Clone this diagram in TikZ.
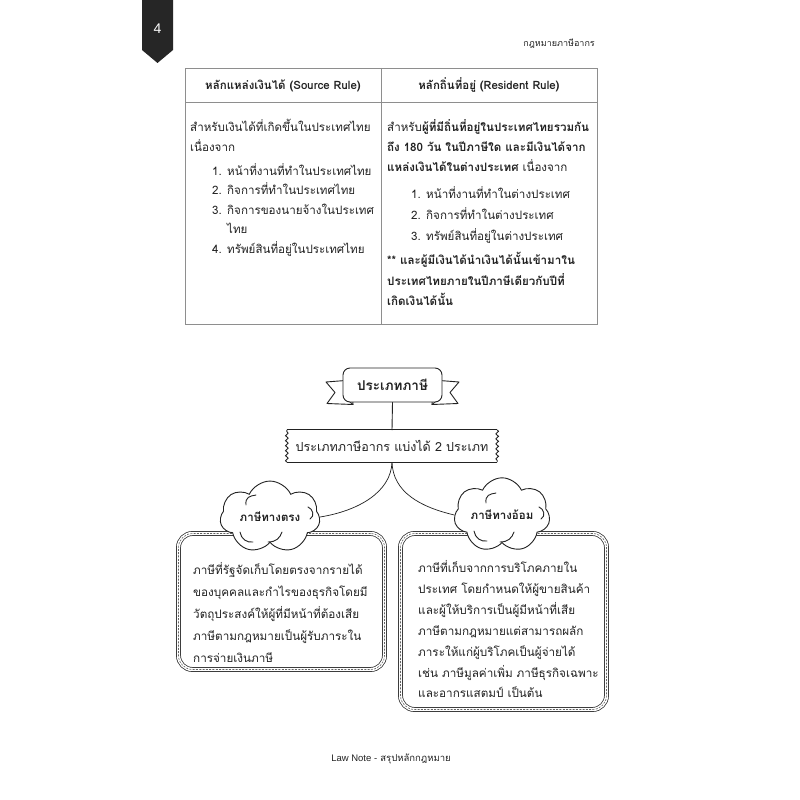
\documentclass[tikz,border=0pt]{standalone}
\usepackage{fontspec}
\setmainfont{Loma}[Script=Thai]
\newfontfamily\latinsans{Liberation Sans}
\usetikzlibrary{shapes.symbols,decorations.pathmorphing}
\definecolor{ink}{HTML}{222222}
\definecolor{tabgray}{HTML}{262626}
\definecolor{rulegray}{HTML}{8E8E8E}
\newcommand\bodyfont{\fontsize{11.6}{14}\selectfont}
\begin{document}
\begin{tikzpicture}[x=1pt,y=-1pt,
  tx/.style={anchor=base west, inner sep=0pt, text=ink, font=\bodyfont},
  txb/.style={tx, font=\bodyfont\bfseries},
  bx/.style={tx, font=\fontsize{11.7}{14}\selectfont},
  sketch/.style={draw=ink, line width=0.9pt, line join=round, line cap=round},
  outerbox/.style={draw=ink, line width=0.7pt, double=white, double distance=3.4pt, rounded corners=14pt, inner sep=0pt},
  stitch/.style={draw=ink!70, line width=0.6pt, dash pattern=on 2pt off 1.3pt, rounded corners=14pt, inner sep=0pt},
  puff/.style={cloud, cloud puffs=7, cloud puff arc=130, aspect=1.6, draw=ink, line width=0.9pt, fill=white, inner sep=0pt, text=ink, font=\fontsize{11.5}{13}\selectfont\bfseries}
]
\useasboundingbox (0,0) rectangle (800,800);
\fill[white] (0,0) rectangle (800,800);

% page tab
\fill[tabgray] (142,0) -- (173,0) -- (173,50) -- (157.5,63) -- (142,50) -- cycle;
\node[text=white, font=\latinsans\fontsize{14}{16}\selectfont, inner sep=0pt] (pg) at (157.5,29) {4};
\node[anchor=base east, inner sep=0pt, text=ink, font=\fontsize{9}{10}\selectfont] (hdr) at (595,47) {กฎหมายภาษีอากร};

% table
\draw[rulegray, line width=0.8pt] (185,68) rectangle (597,324);
\draw[rulegray, line width=0.8pt] (185,102) -- (597,102);
\draw[rulegray, line width=0.8pt] (381,68) -- (381,324);
\node[anchor=base, inner sep=0pt, text=ink, font=\fontsize{11.5}{13}\selectfont\bfseries] (h1) at (283,89.5) {หลักแหล่งเงินได้ (Source Rule)};
\node[anchor=base, inner sep=0pt, text=ink, font=\fontsize{11.5}{13}\selectfont\bfseries] (h2) at (489,89.5) {หลักถิ่นที่อยู่ (Resident Rule)};

% left cell
\node[tx] (a1) at (190,131) {สำหรับเงินได้ที่เกิดขึ้นในประเทศไทย};
\node[tx] (a2) at (190,151) {เนื่องจาก};
\node[tx] (an1) at (212,175) {1.};
\node[tx] (at1) at (227,175) {หน้าที่งานที่ทำในประเทศไทย};
\node[tx] (an2) at (212,194.5) {2.};
\node[tx] (at2) at (227,194.5) {กิจการที่ทำในประเทศไทย};
\node[tx] (an3) at (212,214) {3.};
\node[tx] (at3) at (227,214) {กิจการของนายจ้างในประเทศ};
\node[tx] (at3b) at (227,233.5) {ไทย};
\node[tx] (an4) at (212,253) {4.};
\node[tx] (at4) at (227,253) {ทรัพย์สินที่อยู่ในประเทศไทย};

% right cell
\node[tx] (b1) at (387,131) {สำหรับ\textbf{ผู้ที่มีถิ่นที่อยู่ในประเทศไทยรวมกัน}};
\node[txb] (b2) at (387,151) {ถึง 180 วัน ในปีภาษีใด และมีเงินได้จาก};
\node[tx] (b3) at (387,171) {\textbf{แหล่งเงินได้ในต่างประเทศ} เนื่องจาก};
\node[tx] (bn1) at (411,198) {1.};
\node[tx] (bt1) at (426,198) {หน้าที่งานที่ทำในต่างประเทศ};
\node[tx] (bn2) at (411,219) {2.};
\node[tx] (bt2) at (426,219) {กิจการที่ทำในต่างประเทศ};
\node[tx] (bn3) at (411,240) {3.};
\node[tx] (bt3) at (426,240) {ทรัพย์สินที่อยู่ในต่างประเทศ};
\node[txb] (b4) at (387,264) {** และผู้มีเงินได้นำเงินได้นั้นเข้ามาใน};
\node[txb] (b5) at (387,285) {ประเทศไทยภายในปีภาษีเดียวกับปีที่};
\node[txb] (b6) at (387,305) {เกิดเงินได้นั้น};

% banner
\draw[sketch, fill=white] (352,380) -- (326,382) -- (335,392.5) -- (327,403.5) -- (353,404.5) -- cycle;
\draw[sketch] (344,397) -- (353,404.5);
\draw[sketch, fill=white] (433,380) -- (459,382) -- (450,392.5) -- (458,403.5) -- (432,404.5) -- cycle;
\draw[sketch] (441,397) -- (432,404.5);
\node[sketch, fill=white, rounded corners=7pt, minimum width=99pt, minimum height=34pt, inner sep=0pt, text=ink, font=\fontsize{13.5}{15}\selectfont\bfseries] (ban) at (392.5,385) {ประเภทภาษี};

% torn box
\node[inner sep=0pt, minimum width=210pt, minimum height=32pt, text=ink, font=\fontsize{12.5}{14}\selectfont] (sub) at (392,446) {ประเภทภาษีอากร แบ่งได้ 2 ประเภท};
\draw[draw=ink, line width=0.9pt] (sub.north west) -- (sub.north east);
\draw[draw=ink, line width=1.3pt] (sub.south west) -- (sub.south east);
\draw[draw=ink, line width=0.9pt, decorate, decoration={snake, segment length=5pt, amplitude=1.3pt}] (sub.north east) -- (sub.south east);
\draw[draw=ink, line width=0.9pt, decorate, decoration={snake, segment length=5pt, amplitude=1.3pt}] (sub.south west) -- (sub.north west);
\draw[sketch] (ban.south) -- (sub.north);

% content boxes
\node[outerbox, minimum width=206pt, minimum height=136pt] (bL) at (281.5,601.5) {};
\node[stitch, minimum width=206pt, minimum height=136pt] (bLs) at (bL.center) {};
\node[outerbox, minimum width=206pt, minimum height=176pt] (bR) at (503.5,621.5) {};
\node[stitch, minimum width=206pt, minimum height=176pt] (bRs) at (bR.center) {};

% clouds
\node[puff, minimum width=100pt, minimum height=62pt] (cL) at (270,517) {ภาษีทางตรง};
\node[puff, minimum width=96pt, minimum height=62pt] (cR) at (502,515) {ภาษีทางอ้อม};

% connectors
\draw[draw=ink, line width=0.7pt] (sub.south) .. controls +(-1,30) and +(38,-6) .. (cL.east);
\draw[draw=ink, line width=0.7pt] (sub.south) .. controls +(1,30) and +(-34,-8) .. (cR.west);

% cloud sketch strokes
\draw[sketch] ([shift={(-24,-12)}]cL.center) .. controls +(-1,-8) and +(-6,1) .. ([shift={(-14,-22)}]cL.center);
\draw[sketch] ([shift={(38,-10)}]cL.center) .. controls +(5,2) and +(5,-3) .. ([shift={(40,2)}]cL.center);
\draw[sketch] ([shift={(-30,15)}]cL.center) .. controls +(1,7) and +(-6,1) .. ([shift={(-17,25)}]cL.center);
\draw[sketch] ([shift={(-2,25)}]cL.center) .. controls +(8,0) and +(-2,6) .. ([shift={(12,15)}]cL.center);
\draw[sketch] ([shift={(-16,-12)}]cR.center) .. controls +(-1,-8) and +(-6,1) .. ([shift={(-6,-22)}]cR.center);
\draw[sketch] ([shift={(37,-8)}]cR.center) .. controls +(5,2) and +(5,-3) .. ([shift={(39,4)}]cR.center);
\draw[sketch] ([shift={(-28,16)}]cR.center) .. controls +(1,7) and +(-6,1) .. ([shift={(-15,26)}]cR.center);
\draw[sketch] ([shift={(-2,27)}]cR.center) .. controls +(8,0) and +(-2,6) .. ([shift={(12,17)}]cR.center);

% left box text
\node[bx] (l1) at (193,574) {ภาษีที่รัฐจัดเก็บโดยตรงจากรายได้};
\node[bx] (l2) at (193,596) {ของบุคคลและกำไรของธุรกิจโดยมี};
\node[bx] (l3) at (193,618.5) {วัตถุประสงค์ให้ผู้ที่มีหน้าที่ต้องเสีย};
\node[bx] (l4) at (193,640.5) {ภาษีตามกฎหมายเป็นผู้รับภาระใน};
\node[bx] (l5) at (193,662) {การจ่ายเงินภาษี};

% right box text
\node[bx] (r1) at (418,572) {ภาษีที่เก็บจากการบริโภคภายใน};
\node[bx] (r2) at (418,593) {ประเทศ โดยกำหนดให้ผู้ขายสินค้า};
\node[bx] (r3) at (418,614.5) {และผู้ให้บริการเป็นผู้มีหน้าที่เสีย};
\node[bx] (r4) at (418,635.5) {ภาษีตามกฎหมายแต่สามารถผลัก};
\node[bx] (r5) at (418,656.5) {ภาระให้แก่ผู้บริโภคเป็นผู้จ่ายได้};
\node[bx] (r6) at (418,677) {เช่น ภาษีมูลค่าเพิ่ม ภาษีธุรกิจเฉพาะ};
\node[bx] (r7) at (418,697) {และอากรแสตมป์ เป็นต้น};

% footer
\node[anchor=base, inner sep=0pt, text=ink, font=\fontsize{9.5}{11}\selectfont] (foot) at (391,761) {{\latinsans Law Note -} สรุปหลักกฎหมาย};
\end{tikzpicture}
\end{document}
